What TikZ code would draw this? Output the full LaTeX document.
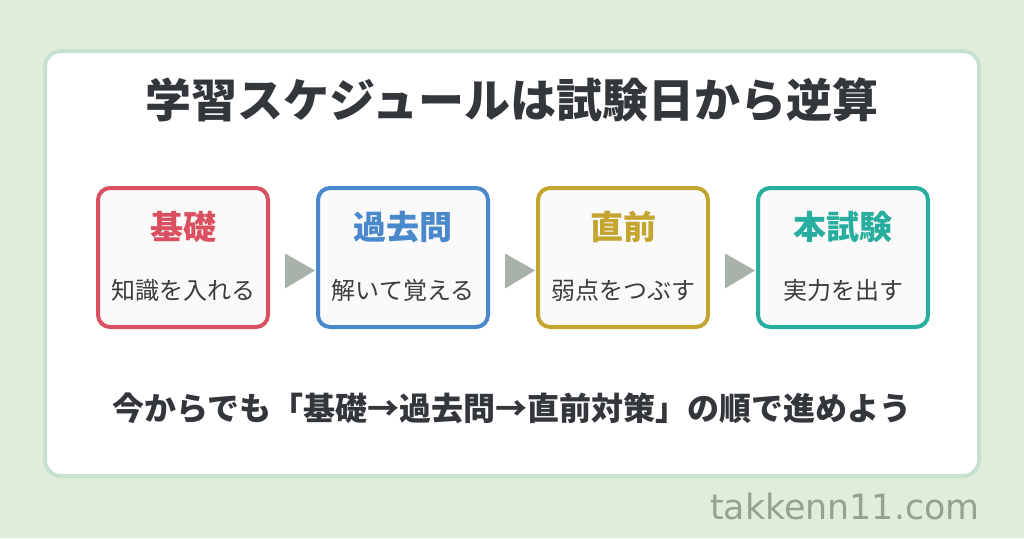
\documentclass[tikz,border=0pt]{standalone}
\usepackage{fontspec}
\setmainfont{Noto Sans CJK JP}
\newfontfamily\markfont{DejaVu Sans}
\usepackage{xcolor}
\usetikzlibrary{positioning, calc}
\definecolor{bggreen}{HTML}{E1EDDB}
\definecolor{panelline}{HTML}{C6E1CF}
\definecolor{inkdark}{HTML}{33363A}
\definecolor{inksub}{HTML}{3C3C3C}
\definecolor{stepred}{HTML}{DB5060}
\definecolor{stepblue}{HTML}{4A88CC}
\definecolor{stepgold}{HTML}{C4A530}
\definecolor{stepteal}{HTML}{28AE9F}
\definecolor{arrowgray}{HTML}{A8B2A8}
\definecolor{markgray}{HTML}{93A291}
\tikzstyle{panel} = [rectangle, rounded corners=16pt, draw=panelline, line width=4pt, fill=white]
\tikzstyle{stepbox} = [rectangle, rounded corners=12pt, minimum width=170pt, minimum height=139pt, line width=4pt, fill=black!2]
\tikzstyle{boxtitle} = [font=\fontsize{33}{37}\selectfont\bfseries]
\tikzstyle{boxsub} = [font=\fontsize{24}{28}\selectfont, text=inksub]
\tikzstyle{tri} = [fill=arrowgray]

\begin{document}
\begin{tikzpicture}[x=1pt, y=-1pt]
    \useasboundingbox (0,0) rectangle (1024,538);
    \fill[bggreen] (0,0) rectangle (1024,538);
    \draw[panel] (45,51) rectangle (979,476);

    \node (title) [text=inkdark, font=\fontsize{46}{50}\selectfont\bfseries] at (512,100) {学習スケジュールは試験日から逆算};

    \node (base) [stepbox, draw=stepred] at (183,257.5) {};
    \node (past) [stepbox, draw=stepblue] at (403,257.5) {};
    \node (last) [stepbox, draw=stepgold] at (623,257.5) {};
    \node (exam) [stepbox, draw=stepteal] at (843,257.5) {};

    \node (base_t) [boxtitle, text=stepred, below=22pt of base.north] {基礎};
    \node (past_t) [boxtitle, text=stepblue, below=22pt of past.north] {過去問};
    \node (last_t) [boxtitle, text=stepgold, below=22pt of last.north] {直前};
    \node (exam_t) [boxtitle, text=stepteal, below=22pt of exam.north] {本試験};

    \node (base_s) [boxsub, above=24pt of base.south] {知識を入れる};
    \node (past_s) [boxsub, above=24pt of past.south] {解いて覚える};
    \node (last_s) [boxsub, above=24pt of last.south] {弱点をつぶす};
    \node (exam_s) [boxsub, above=24pt of exam.south] {実力を出す};

    \fill[tri] ($(base.east)+(15,-4)$) -- ($(base.east)+(15,31)$) -- ($(past.west)+(-1,13)$) -- cycle;
    \fill[tri] ($(past.east)+(15,-4)$) -- ($(past.east)+(15,31)$) -- ($(last.west)+(-1,13)$) -- cycle;
    \fill[tri] ($(last.east)+(15,-4)$) -- ($(last.east)+(15,31)$) -- ($(exam.west)+(-1,13)$) -- cycle;

    \node (note) [text=inkdark, font=\fontsize{32}{36}\selectfont\bfseries] at (512,408) {今からでも「基礎→過去問→直前対策」の順で進めよう};

    \node (mark) [text=markgray, font=\markfont\fontsize{34.8}{38}\selectfont, anchor=base west, inner sep=0pt] at (710,519) {takkenn11.com};
\end{tikzpicture}
\end{document}
